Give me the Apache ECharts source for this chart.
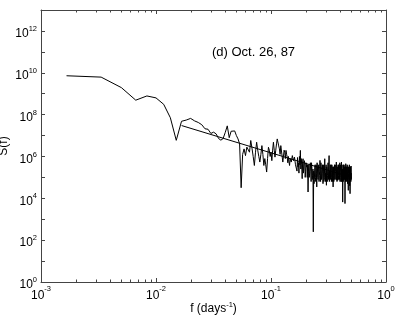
<!DOCTYPE html>
<html>
<head>
<meta charset="utf-8">
<script src="https://cdn.jsdelivr.net/npm/echarts@6/dist/echarts.min.js"></script>
<style>html,body{margin:0;padding:0;background:#fff;}#chart{width:399px;height:319px;}</style>
</head>
<body>
<div id="chart"></div>
<script>
// Frequencies (days^-1)
var freq = [
0.001667,0.003333,0.005,0.006667,0.008333,0.01,0.01167,0.01333,0.015,0.01667,
0.01833,0.02,0.02167,0.02333,0.025,0.02667,0.02833,0.03,0.03167,0.03333,
0.035,0.03667,0.03833,0.04,0.04167,0.04333,0.045,0.04667,0.04833,0.05,
0.05167,0.05333,0.055,0.05667,0.05833,0.06,0.06167,0.06333,0.065,0.06667,
0.06833,0.07,0.07167,0.07333,0.075,0.07667,0.07833,0.08,0.08167,0.08333,
0.085,0.08667,0.08833,0.09,0.09167,0.09333,0.095,0.09667,0.09833,0.1,
0.1017,0.1033,0.105,0.1067,0.1083,0.11,0.1117,0.1133,0.115,0.1167,
0.1183,0.12,0.1217,0.1233,0.125,0.1267,0.1283,0.13,0.1317,0.1333,
0.135,0.1367,0.1383,0.14,0.1417,0.1433,0.145,0.1467,0.15,0.1533,
0.1567,0.16,0.1633,
0.1667,0.1683,0.17,0.1717,0.1733,0.175,0.1767,0.1783,0.18,0.1817,
0.1833,0.185,0.1867,0.1883,0.19,0.1917,0.1933,0.195,0.1967,0.1983,
0.2,0.2017,0.2033,0.205,0.2067,0.2083,0.21,0.2117,0.2133,0.215,
0.2167,0.2183,0.22,0.2217,0.2233,0.225,0.2267,0.2283,0.23,0.2317,
0.2333,0.235,0.2367,0.2383,0.24,0.2417,0.2433,0.245,0.2467,0.2483,
0.25,0.2517,0.2533,0.255,0.2567,0.2583,0.26,0.2617,0.2633,0.265,
0.2667,0.2683,0.27,0.2717,0.2733,0.275,0.2767,0.2783,0.28,0.2817,
0.2833,0.285,0.2867,0.2883,0.29,0.2917,0.2933,0.295,0.2967,0.2983,
0.3,0.3017,0.3033,0.305,0.3067,0.3083,0.31,0.3117,0.3133,0.315,
0.3167,0.3183,0.32,0.3217,0.3233,0.325,0.3267,0.3283,0.33,0.3317,
0.3333,0.335,0.3367,0.3383,0.34,0.3417,0.3433,0.345,0.3467,0.3483,
0.35,0.3517,0.3533,0.355,0.3567,0.3583,0.36,0.3617,0.3633,0.365,
0.3667,0.3683,0.37,0.3717,0.3733,0.375,0.3767,0.3783,0.38,0.3817,
0.3833,0.385,0.3867,0.3883,0.39,0.3917,0.3933,0.395,0.3967,0.3983,
0.4,0.4017,0.4033,0.405,0.4067,0.4083,0.41,0.4117,0.4133,0.415,
0.4167,0.4183,0.42,0.4217,0.4233,0.425,0.4267,0.4283,0.43,0.4317,
0.4333,0.435,0.4367,0.4383,0.44,0.4417,0.4433,0.445,0.4467,0.4483,
0.45,0.4517,0.4533,0.455,0.4567,0.4583,0.46,0.4617,0.4633,0.465,
0.4667,0.4683,0.47,0.4717,0.4733,0.475,0.4767,0.4783,0.48,0.4817,
0.4833,0.485,0.4867,0.4883,0.49,0.4917,0.4933,0.495,0.4967,0.4983,
0.5
];
// Spectral power S(f)
var power = [
7.2e9,6.2e9,1.95e9,4.9e8,7.8e8,6.3e8,3.1e8,7.1e7,5.9e6,4.8e7,
5.5e7,6.6e7,5.0e7,4.2e7,3.3e7,2.1e7,2.0e7,1.26e7,1.45e7,1.2e7,
7.2e6,6.0e6,7.2e6,1.4e7,2.9e7,7.9e6,1.6e7,1.9e7,1.66e7,1.0e7,
6.9e6,4.0e6,3.2e4,1.26e6,2.3e6,1.1e6,2.8e6,3.2e6,1.6e6,5.8e6,
2.5e6,1.0e6,3.7e5,1.6e6,4.8e6,2.0e6,1.0e6,5.4e5,1.26e6,3.3e6,
1.26e6,3.7e5,7.9e5,4.0e5,1.8e5,7.9e5,2.75e6,2.0e6,1.0e6,1.6e6,
6.3e5,2.0e6,4.8e6,2.0e6,9.3e5,2.0e6,4.0e6,6.9e6,6.3e6,3.2e6,
2.3e6,1.26e6,3.3e6,2.8e6,1.0e6,5.4e5,1.0e6,2.0e6,1.6e6,7.9e5,
1.95e6,1.26e6,9.3e5,5.0e5,1.0e6,5.6e5,3.7e5,7.9e5,5.4e5,1.1e6,
6.3e5,9.3e5,4.0e5,
3.7e5,2.0e5,8.9e5,3.2e5,5.0e5,1.6e5,1.0e6,4.0e5,1.95e6,2.5e5,
7.9e5,4.0e5,8.7e4,5.0e5,7.8e5,1.6e5,3.2e5,6.3e5,4.5e5,1.0e5,
2.0e5,5.0e5,3.1e5,4.0e5,1.0e5,4.0e5,2.0e4,2.0e5,4.0e5,1.0e5,
1.6e5,4.0e5,5.0e5,2.0e5,6.3e4,5.0e5,3.2e5,7.9e4,1.26e5,2.5e5,
2.5e2,2.0e5,5.0e4,7.9e4,2.5e5,4.0e5,1.0e5,6.3e4,4.0e5,1.6e5,
3.5e4,5.0e5,3.2e5,1.0e5,7.9e4,2.5e5,4.0e5,6.3e4,1.26e5,2.0e5,
6.5e5,1.6e5,6.3e4,5.0e5,3.2e5,7.9e4,1.0e5,2.5e5,4.0e5,1.6e5,
5.0e4,4.0e5,2.0e5,6.3e4,1.0e5,1.6e5,7.8e5,7.9e4,1.6e5,6.3e4,
3.2e5,4.0e5,4.2e4,3.2e5,2.5e5,6.3e4,1.26e5,2.5e5,5.0e5,2.0e5,
7.9e4,3.2e5,1.1e6,6.3e4,2.0e5,1.0e5,3.2e5,4.0e5,7.9e4,1.6e5,
4.0e5,6.3e4,1.0e5,4.0e5,2.8e5,2.0e5,6.3e4,3.2e5,3.5e4,1.26e5,
3.2e5,6.3e4,1.0e5,2.5e5,4.0e5,7.9e4,1.26e5,4.0e5,2.5e5,2.0e5,
7.9e4,1.6e5,5.4e5,7.9e4,1.0e5,6.3e4,3.2e5,1.6e5,7.2e4,2.0e5,
4.0e5,7.9e4,1.26e5,4.0e5,2.5e5,3.2e5,7.9e4,1.6e5,5.0e5,6.3e4,
1.0e5,4.0e5,2.5e5,2.0e5,6.3e4,1.26e5,5.4e5,6.3e4,1.26e5,4.0e5,
7.9e4,2.5e5,6.6e3,1.0e5,2.0e5,6.3e4,4.0e5,1.6e5,7.9e4,4.0e5,
2.5e5,7.9e4,1.0e5,3.2e5,5.6e3,7.9e4,3.2e5,6.3e4,4.5e5,2.5e5,
7.9e4,1.26e5,3.2e5,6.3e4,1.0e5,2.5e5,4.0e5,2.0e5,5.0e4,3.2e5,
2.0e5,7.9e4,2.4e4,1.6e5,3.2e5,2.5e5,1.0e5,7.9e4,4.0e5,2.0e5,
4.0e4,2.5e5,1.66e4,7.9e4,2.5e5,3.2e5,1.0e5,6.3e4,3.5e5,7.9e4,
1.6e5
];
// Power-law fit line
var fitFreq = [0.0167, 0.5];
var fitPower = [3.0e7, 1.0e5];
// Axis ranges
var xRange = [1e-3, 1];
var yRange = [1, 1e13];
// Minor tick positions on log x axis
var xMinorTicks = [
0.002,0.003,0.004,0.005,0.006,0.007,0.008,0.009,
0.02,0.03,0.04,0.05,0.06,0.07,0.08,0.09,
0.2,0.3,0.4,0.5,0.6,0.7,0.8,0.9
];
var annotation = '(d) Oct. 26, 87';

var FONT = 'Liberation Sans, Arial, Helvetica, sans-serif';
var AXC = '#444';
function pow10Label(v, skipOdd) {
  var e = Math.round(Math.log(v) / Math.LN10);
  if (skipOdd && Math.abs(e) % 2 === 1) return '';
  return '{b|10}{s|' + e + '}';
}
var yRich = {
  b: {fontSize: 12, fontFamily: FONT, color: '#000', lineHeight: 18},
  s: {fontSize: 7.5, fontFamily: FONT, color: '#000', lineHeight: 7, verticalAlign: 'top'}
};
var xRich = {
  b: {fontSize: 12, fontFamily: FONT, color: '#000', lineHeight: 22},
  s: {fontSize: 7.5, fontFamily: FONT, color: '#000', lineHeight: 7, verticalAlign: 'top'}
};

var chart = echarts.init(document.getElementById('chart'), null, {renderer: 'canvas'});
chart.setOption({
  animation: false,
  backgroundColor: '#fff',
  grid: {left: 41, right: 13, top: 10, bottom: 37, containLabel: false, outerBoundsMode: 'none'},
  xAxis: [{
    type: 'log', logBase: 10, min: xRange[0], max: xRange[1], interval: 1,
    position: 'bottom',
    name: '{a|f (days}{s|-1}{a|)}', nameLocation: 'middle', nameGap: 19, nameMoveOverlap: false,
    nameTextStyle: {rich: {
      a: {fontSize: 12, fontFamily: FONT, color: '#000', lineHeight: 16},
      s: {fontSize: 7.5, fontFamily: FONT, color: '#000', lineHeight: 7, verticalAlign: 'top'}
    }},
    axisLine: {show: true, lineStyle: {color: AXC, width: 1}},
    axisTick: {show: true, inside: true, length: 4, lineStyle: {color: AXC}},
    axisLabel: {margin: 3, formatter: function (v) { return pow10Label(v, false); }, rich: xRich},
    splitLine: {show: false}
  }, {
    type: 'log', logBase: 10, min: xRange[0], max: xRange[1], interval: 1,
    position: 'top',
    axisLine: {show: true, lineStyle: {color: AXC, width: 1}},
    axisTick: {show: true, inside: true, length: 4, lineStyle: {color: AXC}},
    axisLabel: {show: false},
    splitLine: {show: false}
  }],
  yAxis: [{
    type: 'log', logBase: 10, min: yRange[0], max: yRange[1], interval: 1,
    position: 'left',
    name: 'S(f)', nameLocation: 'middle', nameGap: 31, nameRotate: 90, nameMoveOverlap: false,
    nameTextStyle: {fontSize: 12, fontFamily: FONT, color: '#000'},
    axisLine: {show: true, lineStyle: {color: AXC, width: 1}},
    axisTick: {show: true, inside: true, length: 4, lineStyle: {color: AXC}},
    axisLabel: {margin: 4, padding: [6, 0, 0, 0], formatter: function (v) { return pow10Label(v, true); }, rich: yRich},
    splitLine: {show: false}
  }, {
    type: 'log', logBase: 10, min: yRange[0], max: yRange[1], interval: 1,
    position: 'right',
    axisLine: {show: true, lineStyle: {color: AXC, width: 1}},
    axisTick: {show: true, inside: true, length: 4, lineStyle: {color: AXC}},
    axisLabel: {show: false},
    splitLine: {show: false}
  }],
  graphic: [{
    type: 'text', left: 212, top: 46,
    style: {text: annotation, font: '13px ' + FONT, fill: '#000'}
  }],
  series: [{
    type: 'line', xAxisIndex: 0, yAxisIndex: 0,
    data: freq.map(function (f, i) { return [f, power[i]]; }),
    showSymbol: false, symbol: 'none',
    lineStyle: {color: '#000', width: 1}, silent: true
  }, {
    type: 'line', xAxisIndex: 0, yAxisIndex: 0,
    data: fitFreq.map(function (f, i) { return [f, fitPower[i]]; }),
    showSymbol: false, symbol: 'none',
    lineStyle: {color: '#000', width: 1}, silent: true
  }, {
    type: 'custom', xAxisIndex: 0, yAxisIndex: 0, silent: true, clip: false,
    data: xMinorTicks.map(function (v) { return [v, yRange[0]]; }),
    encode: {x: 0, y: 1},
    renderItem: function (params, api) {
      var b = api.coord([api.value(0), yRange[0]]);
      var t = api.coord([api.value(0), yRange[1]]);
      var x = Math.round(b[0]) + 0.5;
      return {type: 'group', children: [
        {type: 'line', shape: {x1: x, y1: b[1], x2: x, y2: b[1] - 2.5}, style: {stroke: AXC, lineWidth: 1}},
        {type: 'line', shape: {x1: x, y1: t[1], x2: x, y2: t[1] + 2.5}, style: {stroke: AXC, lineWidth: 1}}
      ]};
    }
  }]
});
</script>
</body>
</html>
